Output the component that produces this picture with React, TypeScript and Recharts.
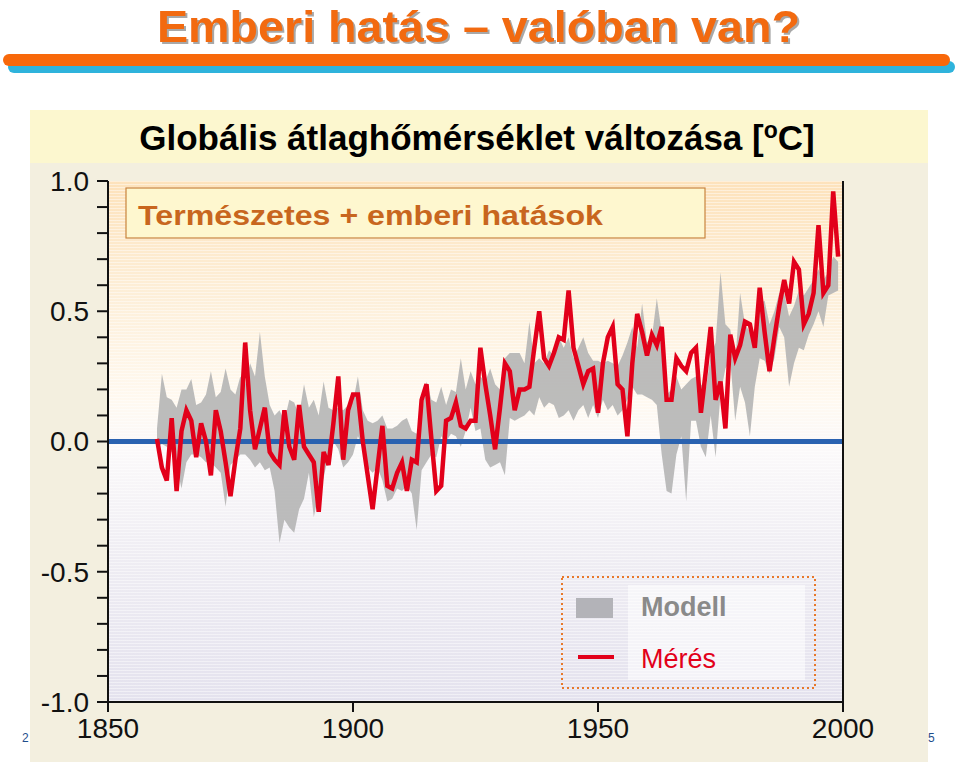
import React from 'react';
import { ComposedChart, Area, Line, XAxis, YAxis, ReferenceLine } from 'recharts';

// Measured global mean temperature anomaly (°C), 1860–1999
const measured = [
  0.01, -0.10, -0.15, 0.09, -0.19, 0.04, 0.12, 0.08, -0.06, 0.07,
  0.00, -0.13, 0.12, 0.04, -0.08, -0.21, -0.07, 0.05, 0.38, 0.12,
  -0.03, 0.05, 0.13, -0.04, -0.07, -0.09, 0.12, -0.02, -0.07, 0.14,
  -0.02, -0.05, -0.08, -0.27, -0.04, -0.09, 0.07, 0.25, -0.07, 0.12,
  0.18, 0.18, 0.00, -0.13, -0.26, -0.10, 0.06, -0.17, -0.18, -0.12,
  -0.08, -0.19, -0.07, -0.08, 0.16, 0.22, 0.01, -0.19, -0.17, 0.08,
  0.09, 0.15, 0.06, 0.05, 0.08, 0.08, 0.36, 0.22, 0.10, -0.03,
  0.13, 0.30, 0.27, 0.12, 0.20, 0.20, 0.21, 0.36, 0.50, 0.32,
  0.29, 0.34, 0.40, 0.39, 0.58, 0.36, 0.29, 0.22, 0.27, 0.28,
  0.11, 0.30, 0.40, 0.44, 0.22, 0.20, 0.02, 0.30, 0.49, 0.42,
  0.33, 0.41, 0.37, 0.44, 0.16, 0.16, 0.32, 0.29, 0.27, 0.34,
  0.36, 0.11, 0.27, 0.44, 0.16, 0.23, 0.05, 0.41, 0.32, 0.37,
  0.46, 0.45, 0.36, 0.59, 0.42, 0.27, 0.40, 0.52, 0.62, 0.53,
  0.69, 0.66, 0.45, 0.49, 0.57, 0.83, 0.57, 0.60, 0.96, 0.71,
];

// Model ensemble range (upper / lower), 1860–1999
const modelHigh = [
  0.05, 0.26, 0.17, 0.16, 0.13, 0.20, 0.20, 0.24, 0.14, 0.15,
  0.18, 0.27, 0.17, 0.19, 0.28, 0.20, 0.18, 0.25, 0.22, 0.30,
  0.25, 0.42, 0.25, 0.14, 0.10, 0.12, 0.08, 0.16, 0.15, 0.10,
  0.22, 0.13, 0.16, 0.10, 0.23, 0.13, 0.12, 0.13, 0.12, 0.14,
  0.15, 0.25, 0.12, 0.08, 0.07, 0.08, 0.10, 0.05, 0.05, 0.06,
  0.08, 0.09, 0.04, 0.03, 0.10, 0.23, 0.16, 0.15, 0.21, 0.14,
  0.20, 0.19, 0.32, 0.20, 0.27, 0.22, 0.25, 0.23, 0.28, 0.22,
  0.20, 0.32, 0.34, 0.34, 0.34, 0.30, 0.46, 0.30, 0.32, 0.30,
  0.35, 0.33, 0.40, 0.36, 0.40, 0.32, 0.36, 0.40, 0.34, 0.31,
  0.31, 0.30, 0.31, 0.30, 0.29, 0.33, 0.38, 0.44, 0.36, 0.53,
  0.38, 0.40, 0.55, 0.42, 0.18, 0.20, 0.25, 0.20, 0.22, 0.24,
  0.25, 0.22, 0.20, 0.33, 0.38, 0.65, 0.45, 0.43, 0.30, 0.57,
  0.45, 0.42, 0.40, 0.53, 0.54, 0.45, 0.50, 0.57, 0.57, 0.48,
  0.52, 0.58, 0.56, 0.59, 0.62, 0.66, 0.62, 0.65, 0.71, 0.69,
];
const modelLow = [
  -0.02, -0.01, -0.02, -0.04, -0.09, -0.18, -0.08, -0.05, -0.05, -0.06,
  -0.08, -0.08, -0.10, -0.12, -0.25, -0.09, -0.07, -0.05, -0.05, -0.07,
  -0.10, -0.08, -0.11, -0.10, -0.19, -0.39, -0.30, -0.33, -0.35, -0.26,
  -0.22, -0.12, -0.29, -0.20, -0.14, -0.05, 0.00, -0.03, -0.10, -0.08,
  -0.05, 0.02, -0.02, -0.10, -0.12, -0.10, -0.15, -0.23, -0.22, -0.18,
  -0.19, -0.17, -0.20, -0.34, -0.11, -0.08, -0.05, -0.06, 0.02, 0.00,
  0.03, 0.02, -0.02, 0.04, 0.13, 0.04, 0.05, -0.07, -0.10, -0.09,
  -0.08, -0.13, 0.09, 0.08, 0.09, 0.10, 0.12, 0.10, 0.17, 0.13,
  0.15, 0.14, 0.09, 0.10, 0.12, 0.08, 0.12, 0.14, 0.09, 0.14,
  0.09, 0.16, 0.12, 0.14, 0.10, 0.12, 0.16, 0.21, 0.18, 0.18,
  0.17, 0.16, 0.14, -0.05, -0.19, -0.20, -0.05, 0.02, -0.23, 0.08,
  0.08, -0.02, -0.06, 0.10, -0.06, 0.18, 0.28, 0.31, 0.08, 0.21,
  0.15, 0.02, 0.21, 0.32, 0.31, 0.26, 0.32, 0.44, 0.40, 0.21,
  0.30, 0.36, 0.35, 0.41, 0.45, 0.50, 0.44, 0.56, 0.57, 0.58,
];

const firstYear = 1860;
const years = measured.map((_, i) => firstYear + i);
const xTicks = [1850, 1900, 1950, 2000];
const yTicks = [-1.0, -0.9, -0.8, -0.7, -0.6, -0.5, -0.4, -0.3, -0.2, -0.1, 0.0,
  0.1, 0.2, 0.3, 0.4, 0.5, 0.6, 0.7, 0.8, 0.9, 1.0];

const data = years.map((year, i) => ({
  year,
  measured: measured[i],
  model: [modelLow[i], modelHigh[i]],
}));

const FONT = "'Liberation Sans', Arial, Helvetica, sans-serif";

const yFmt = (v: number) => {
  const d = v * 2;
  return Math.abs(d - Math.round(d)) < 1e-6 ? v.toFixed(1) : '';
};

export default function App() {
  return (
    <div style={{ position: 'absolute', left: 0, top: 0, width: 960, height: 762, background: '#ffffff', overflow: 'hidden', fontFamily: FONT }}>
      {/* background decorations */}
      <svg width={960} height={762} style={{ position: 'absolute', left: 0, top: 0 }}>
        <rect x={8} y={61} width={947} height={12} rx={6} fill="#2fb3dc" />
        <rect x={3} y={54} width={947} height={12} rx={6} fill="#f8680a" />
        <text x={157} y={42} fontFamily={FONT} fontWeight="bold" fontSize={45} fill="#f26a10"
          textLength={643} lengthAdjust="spacingAndGlyphs"
          style={{ filter: 'drop-shadow(2px 2px 0px #a8a8a8)' }}>Emberi hatás – valóban van?</text>
        <rect x={30} y={110} width={898} height={652} fill="#f3efdf" />
        <rect x={30} y={110} width={898} height={53} fill="#fcf7cf" />
        <text x={22} y={742} fontFamily={FONT} fontSize={12} fill="#1f4e8c">2</text>
        <text x={928} y={742} fontFamily={FONT} fontSize={12} fill="#1f4e8c">5</text>
      </svg>
      {/* plot background */}
      <div style={{
        position: 'absolute', left: 108, top: 181, width: 735, height: 521,
        background: 'repeating-linear-gradient(to bottom, rgba(255,255,255,0.45) 0px, rgba(255,255,255,0.45) 1px, rgba(255,255,255,0) 1px, rgba(255,255,255,0) 3px), linear-gradient(to bottom, #fde2bb 0%, #fdefd9 22%, #fff9f0 42%, #fbf9fa 52%, #efedf3 72%, #e4e2ee 100%)',
      }} />
      <div style={{ position: 'absolute', left: 0, top: 0 }}>
        <ComposedChart width={960} height={762} data={data} margin={{ top: 181, right: 32, bottom: 10, left: 30 }}>
          <XAxis dataKey="year" type="number" domain={[1850, 2000]} ticks={xTicks} allowDataOverflow
            height={50} tickSize={10} tickMargin={6} stroke="#111" strokeWidth={2}
            tick={{ fontSize: 28, fill: '#111', fontFamily: FONT }} />
          <YAxis yAxisId="left" domain={[-1, 1]} ticks={yTicks} tickFormatter={yFmt} width={78}
            tickSize={11} tickMargin={8} stroke="#111" strokeWidth={2} interval={0}
            tick={{ fontSize: 28, fill: '#111', fontFamily: FONT }} />
          <YAxis yAxisId="right" orientation="right" domain={[-1, 1]} ticks={yTicks} tickFormatter={yFmt} width={85}
            tickSize={12} tickMargin={17} stroke="#111" strokeWidth={2} interval={0}
            tick={{ fontSize: 28, fill: '#111', fontFamily: FONT }} />
          <Area yAxisId="left" dataKey="model" type="linear" stroke="none" fill="#b3b3b3" fillOpacity={0.88} isAnimationActive={false} />
          <ReferenceLine yAxisId="left" y={0} stroke="#2a62b0" strokeWidth={5} />
          <Line yAxisId="left" dataKey="measured" type="linear" stroke="#e2001a" strokeWidth={4.5} dot={false} isAnimationActive={false} strokeLinejoin="miter" />
        </ComposedChart>
      </div>
      {/* overlays */}
      <svg width={960} height={762} style={{ position: 'absolute', left: 0, top: 0, pointerEvents: 'none' }}>
        <text x={477} y={150} textAnchor="middle" fontFamily={FONT} fontWeight="bold" fontSize={35} fill="#000">
          Globális átlaghőmérséklet változása [<tspan dy={-12} fontSize={23}>o</tspan><tspan dy={12}>C]</tspan>
        </text>
        <rect x={126} y={188} width={579} height={50} fill="#fef7cf" stroke="#c8843e" strokeWidth={1.2} />
        <text x={138} y={225} fontFamily={FONT} fontWeight="bold" fontSize={28} fill="#c8661e" textLength={465} lengthAdjust="spacingAndGlyphs">Természetes + emberi hatások</text>
        <rect x={628} y={585} width={177} height={95} fill="rgba(255,255,255,0.55)" />
        <rect x={562} y={577} width={253} height={111} fill="none" stroke="#e8782a" strokeWidth={2} strokeDasharray="2 3" />
        <rect x={576} y={598} width={37} height={20} fill="#b3b3b8" />
        <text x={641} y={616} fontFamily={FONT} fontWeight="bold" fontSize={27} fill="#8a8a8a">Modell</text>
        <line x1={578} x2={614} y1={657} y2={657} stroke="#e2001a" strokeWidth={4} />
        <text x={641} y={668} fontFamily={FONT} fontSize={27} fill="#e2001a">Mérés</text>
      </svg>
    </div>
  );
}
